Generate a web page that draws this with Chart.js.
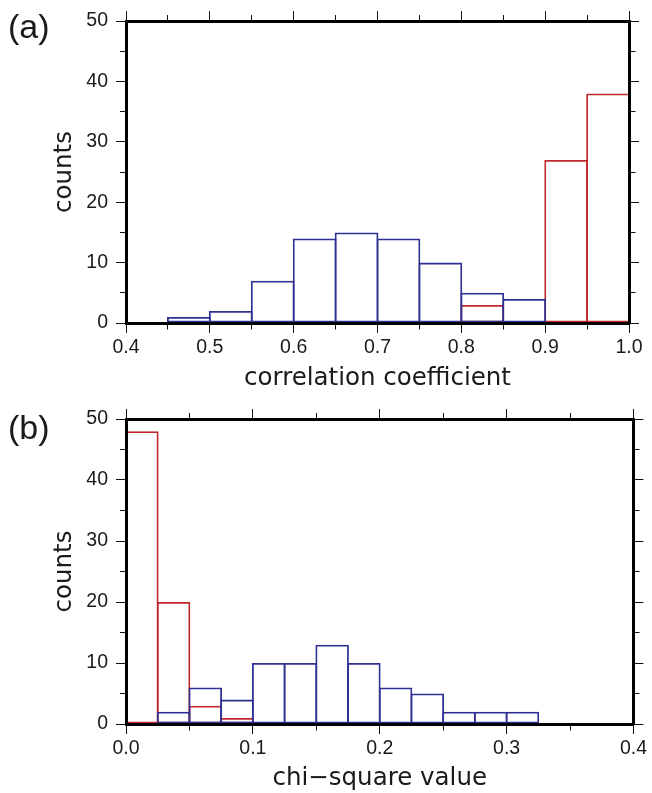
<!DOCTYPE html>
<html><head><meta charset="utf-8">
<script src="https://cdn.jsdelivr.net/npm/chart.js@4"></script>
<style>
html,body{margin:0;padding:0;background:#fff;width:652px;height:793px;overflow:hidden;}
.wrap{position:absolute;left:0;}
.wrap canvas{display:block;}
.tag{position:absolute;z-index:5;font-family:'Liberation Sans',Arial,sans-serif;font-size:34px;line-height:34px;color:#1a1a1a;}
</style></head><body>
<div class="wrap" style="top:0px"><canvas id="ca" width="652" height="395"></canvas></div>
<div class="wrap" style="top:395px"><canvas id="cb" width="652" height="398"></canvas></div>
<div class="tag" style="left:8px;top:9px">(a)</div>
<div class="tag" style="left:8px;top:410px">(b)</div>
<script>
// ---------- data ----------
// (a) correlation coefficient histogram, bin width 0.05
const corrBinStarts = [0.40, 0.45, 0.50, 0.55, 0.60, 0.65, 0.70, 0.75, 0.80, 0.85, 0.90, 0.95];
const corrBlue      = [0,    1,    2,    7,    14,   15,   14,   10,   5,    4,    0,    0];
const corrRed       = [0,    0,    0,    0,    0,    0,    0,    0,    3,    0,    27,   38];
const corrXTicks    = [0.4, 0.5, 0.6, 0.7, 0.8, 0.9, 1.0];

// (b) chi-square value histogram, bin width 0.025
const chiBinStarts = [0.000, 0.025, 0.050, 0.075, 0.100, 0.125, 0.150, 0.175, 0.200, 0.225, 0.250, 0.275, 0.300, 0.325, 0.350, 0.375];
const chiBlue      = [0,     2,     6,     4,     10,    10,    13,    10,    6,     5,     2,     2,     2,     0,     0,     0];
const chiRed       = [48,    20,    3,     1,     0,     0,     0,     0,     0,     0,     0,     0,     0,     0,     0,     0];
const chiXTicks    = [0.0, 0.1, 0.2, 0.3, 0.4];

const countTicks = [0, 10, 20, 30, 40, 50];

// ---------- style ----------
const RED = '#c1272d';
const BLUE = '#2e3192';
const BAR_W = 1.8;
const FRAME_W = 3;
const TL = 10;      // major tick length
const MINOR = 6;    // minor tick length
const tickFont = {family: "'Liberation Sans', Arial, sans-serif", size: 19.5, lineHeight: 1};
const titleFont = {family: "'DejaVu Sans', sans-serif", size: 24.5, lineHeight: 1};

function isMajor(v, list) {
  return list.some(t => Math.abs(t - v) < 1e-6);
}

function makeChart(id, p) {
  const binW = p.binStarts[1] - p.binStarts[0];
  const nBins = (p.xMax - p.xMin) / binW;
  const binPx = (p.plotRight - p.leftW) / nBins;
  const barPct = 1 + BAR_W / binPx;
  const toPts = arr => p.binStarts.map((s, i) => ({x: s + binW / 2, y: arr[i]}));

  const dashOuterToAxis = (ctx, majors) => isMajor(ctx.tick.value, majors) ? [] : [MINOR, 200];
  const offOuterToAxis = (ctx, majors) => isMajor(ctx.tick.value, majors) ? 0 : (MINOR + 200 - (TL - MINOR));
  const dashAxisToOuter = (ctx, majors) => isMajor(ctx.tick.value, majors) ? [] : [MINOR - FRAME_W / 2, 200];

  const gridBase = {display: true, drawOnChartArea: false, drawTicks: true, tickLength: TL,
                    tickWidth: 1, tickColor: '#111', offset: false};
  const border = {display: true, color: '#000', width: FRAME_W, z: 1};

  const xCommon = {type: 'linear', min: p.xMin, max: p.xMax, offset: false,
                   ticks: {stepSize: 0.05, autoSkip: false, maxRotation: 0}};
  const yCommon = {type: 'linear', min: 0, max: 50, ticks: {stepSize: 5, autoSkip: false}};

  return new Chart(document.getElementById(id), {
    type: 'bar',
    data: {
      datasets: [
        {label: 'blue', data: toPts(p.blue), borderColor: BLUE, backgroundColor: 'rgba(0,0,0,0)',
         borderWidth: BAR_W, borderSkipped: false, grouped: false, barPercentage: barPct, categoryPercentage: 1},
        {label: 'red', data: toPts(p.red), borderColor: RED, backgroundColor: 'rgba(0,0,0,0)',
         borderWidth: BAR_W, borderSkipped: false, grouped: false, barPercentage: barPct, categoryPercentage: 1}
      ]
    },
    options: {
      responsive: false, animation: false, devicePixelRatio: 1,
      layout: {padding: 0},
      plugins: {legend: {display: false}, tooltip: {enabled: false}},
      scales: {
        x: Object.assign({}, xCommon, {
          position: 'bottom',
          grid: Object.assign({}, gridBase, {
            tickBorderDash: ctx => dashAxisToOuter(ctx, p.xTicks)}),
          border: border,
          ticks: {stepSize: 0.05, autoSkip: false, maxRotation: 0, minRotation: 0, padding: 5,
                  color: '#1a1a1a', font: tickFont,
                  callback: v => isMajor(v, p.xTicks) ? v.toFixed(1) : ''},
          title: {display: true, text: p.xTitle, color: '#1a1a1a', font: titleFont,
                  padding: {top: 0, bottom: p.titlePadBottom}},
          afterFit: s => { s.height = p.bottomH; }
        }),
        x2: Object.assign({}, xCommon, {
          position: 'top',
          grid: Object.assign({}, gridBase, {
            tickBorderDash: ctx => dashOuterToAxis(ctx, p.xTicks),
            tickBorderDashOffset: ctx => offOuterToAxis(ctx, p.xTicks)}),
          border: border,
          ticks: {stepSize: 0.05, autoSkip: false, display: false},
          afterFit: s => { s.height = p.topH; }
        }),
        y: Object.assign({}, yCommon, {
          position: 'left',
          grid: Object.assign({}, gridBase, {
            tickBorderDash: ctx => dashOuterToAxis(ctx, countTicks),
            tickBorderDashOffset: ctx => offOuterToAxis(ctx, countTicks)}),
          border: border,
          ticks: {stepSize: 5, autoSkip: false, padding: 8, color: '#1a1a1a', font: tickFont,
                  callback: v => isMajor(v, countTicks) ? String(v) : ''},
          title: {display: true, text: 'counts', color: '#1a1a1a', font: titleFont,
                  padding: {top: p.yTitlePad, bottom: 0}},
          afterFit: s => { s.width = p.leftW; }
        }),
        y2: Object.assign({}, yCommon, {
          position: 'right',
          grid: Object.assign({}, gridBase, {
            tickBorderDash: ctx => dashAxisToOuter(ctx, countTicks)}),
          border: border,
          ticks: {stepSize: 5, autoSkip: false, display: false},
          afterFit: s => { s.width = 652 - p.plotRight; }
        })
      }
    }
  });
}

makeChart('ca', {
  binStarts: corrBinStarts, blue: corrBlue, red: corrRed, xTicks: corrXTicks,
  xMin: 0.4, xMax: 1.0, xTitle: 'correlation coefficient',
  leftW: 126, plotRight: 629, topH: 21, bottomH: 72, titlePadBottom: 4.25, yTitlePad: 52.25
});
makeChart('cb', {
  binStarts: chiBinStarts, blue: chiBlue, red: chiRed, xTicks: chiXTicks,
  xMin: 0.0, xMax: 0.4, xTitle: 'chi\u2212square value',
  leftW: 126, plotRight: 636, topH: 24, bottomH: 69, titlePadBottom: 2.25, yTitlePad: 52.25
});
</script>
</body></html>
